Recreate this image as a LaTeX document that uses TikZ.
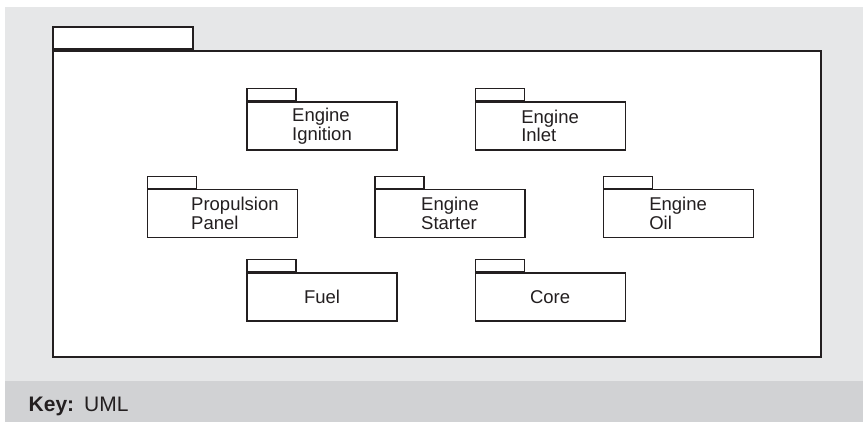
\documentclass[tikz,border=0pt]{standalone}
\usepackage{fontspec}
\setmainfont{Liberation Sans}
\usepackage{xcolor}
\usepackage{tikz}
\usetikzlibrary{positioning}
\definecolor{inkgray}{RGB}{35, 31, 32}
\definecolor{panelgray}{RGB}{230, 231, 232}
\definecolor{keygray}{RGB}{209, 210, 212}
\tikzset{
  pkgbody/.style={
    draw=inkgray,
    fill=white,
    line width=1.1pt,
    minimum width=150pt,
    minimum height=48pt,
    inner sep=0pt,
    align=left,
    text=inkgray,
    font=\fontsize{18.5}{18.5}\selectfont
  },
  pkgtab/.style={
    draw=inkgray,
    fill=white,
    line width=1.1pt,
    minimum width=49pt,
    minimum height=12pt,
    inner sep=0pt,
    anchor=south west
  },
  sysbody/.style={
    draw=inkgray,
    fill=white,
    line width=1.8pt,
    minimum width=768pt,
    minimum height=306pt,
    inner sep=0pt
  },
  systab/.style={
    draw=inkgray,
    fill=white,
    line width=1.8pt,
    minimum width=140pt,
    minimum height=22pt,
    inner sep=0pt,
    anchor=south west
  }
}

\begin{document}
\begin{tikzpicture}[x=1pt, y=-1pt, node distance=77pt]
  \useasboundingbox (0,0) rectangle (863,422);
  \fill[panelgray] (5,7) rectangle (863,381);
  \fill[keygray] (5,381) rectangle (863,422);

  % outer package
  \node[sysbody] (sys) at (437,204) {};
  \node[systab] (sys-tab) at (sys.north west) {};

  % first row
  \node[pkgbody] (ign) at (322,126) {Engine\\Ignition};
  \node[pkgbody, right=of ign] (inlet) {Engine\\Inlet};

  % second row
  \node[pkgbody] (starter) at (450,213.5) {Engine\\Starter};
  \node[pkgbody, left=76pt of starter] (prop) {\hspace*{24pt}Propulsion\\\hspace*{24pt}Panel};
  \node[pkgbody, right=of starter] (oil) {Engine\\Oil};

  % third row
  \node[pkgbody] (fuel) at (322,297) {Fuel};
  \node[pkgbody, right=of fuel] (core) {Core};

  \foreach \pkg in {ign, inlet, prop, starter, oil, fuel, core}
    \node[pkgtab] (\pkg-tab) at (\pkg.north west) {};

  % key
  \node[anchor=base west, inner sep=0pt, text=inkgray, font=\fontsize{21}{24}\selectfont] (key) at (28.5,411) {\textbf{Key:}\hspace{10pt}UML};
\end{tikzpicture}
\end{document}
